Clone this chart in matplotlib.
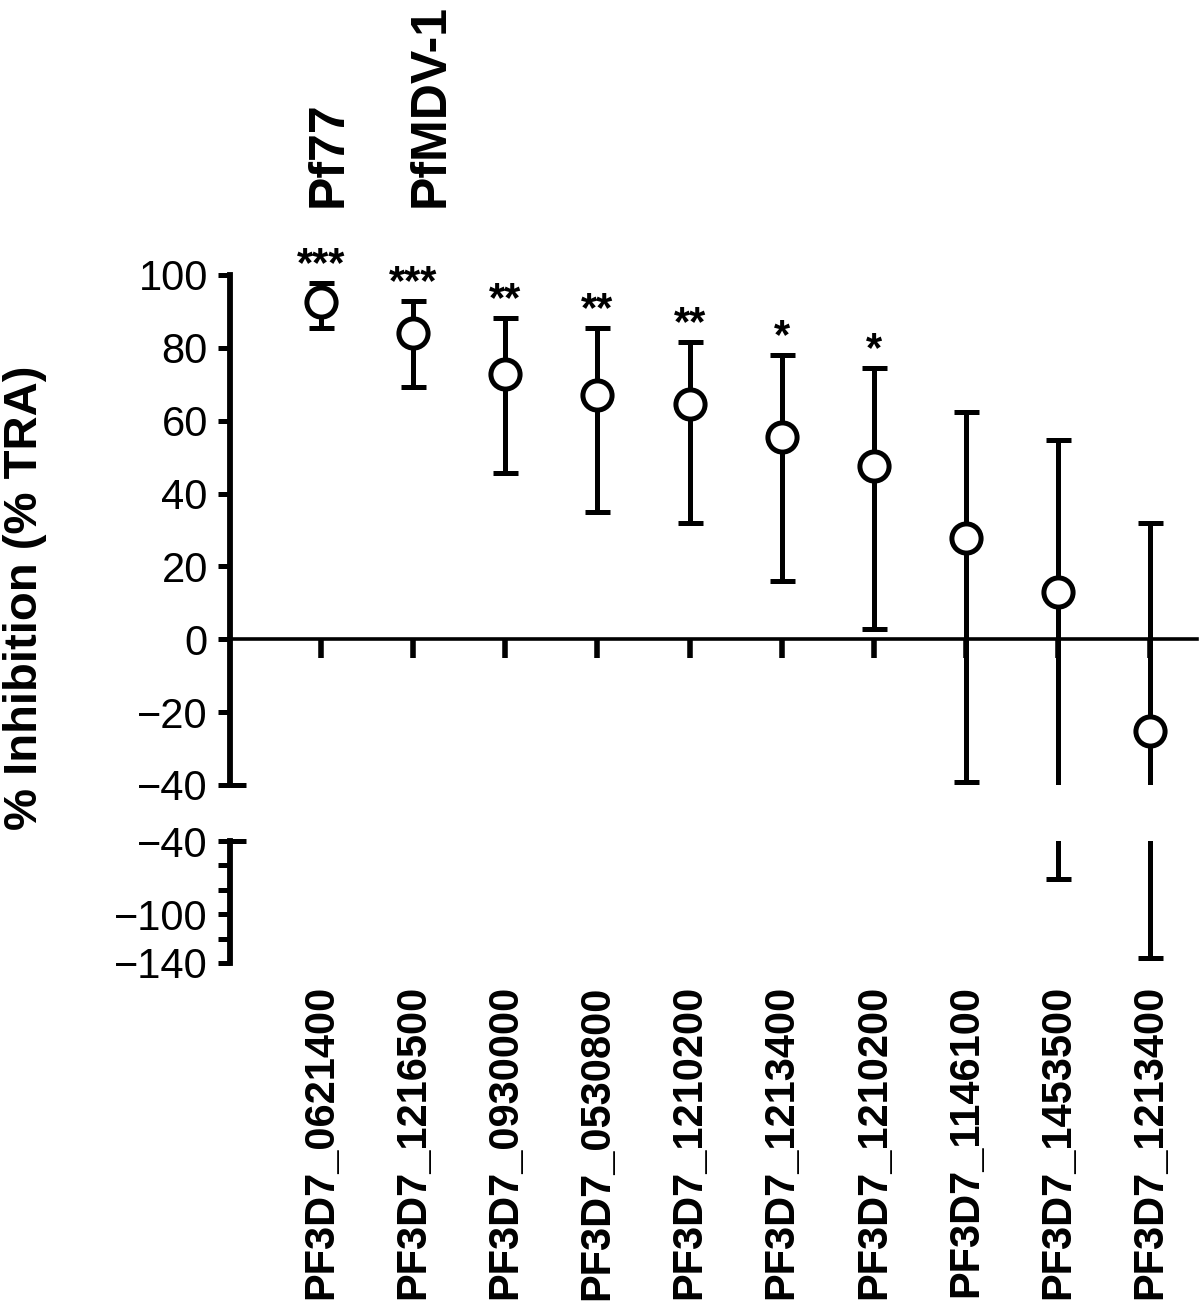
import matplotlib.pyplot as plt
import numpy as np

plt.rcParams['font.family'] = ['Liberation Sans', 'DejaVu Sans']

genes = ["PF3D7_0621400", "PF3D7_1216500", "PF3D7_0930000", "PF3D7_0530800",
         "PF3D7_1210200", "PF3D7_1213400", "PF3D7_1210200", "PF3D7_1146100",
         "PF3D7_1453500", "PF3D7_1213400"]
mean_inh = [92.6, 84.0, 72.8, 67.0, 64.6, 55.5, 47.5, 27.7, 12.9, -25.3]
upper = [97.8, 92.9, 88.2, 85.4, 81.6, 78.0, 74.5, 62.4, 54.7, 31.9]
lower = [85.4, 69.2, 45.6, 34.9, 31.9, 15.9, 2.7, -39.3, -71.0, -136.0]
stars = ["***", "***", "**", "**", "**", "*", "*", "", "", ""]

x = np.arange(len(genes))
mean_inh = np.array(mean_inh)
upper = np.array(upper)
lower = np.array(lower)
yerr = [mean_inh - lower, upper - mean_inh]

fig = plt.figure(figsize=(12, 13.08), dpi=100)
ax_top = fig.add_axes([0.1917, 0.3999, 0.8058, 0.3899])
ax_bot = fig.add_axes([0.1917, 0.2638, 0.8058, 0.0932])

err_style = dict(fmt='o', mfc='white', mec='black', mew=3.6, ms=21,
                 ecolor='black', elinewidth=3.6, capsize=9, capthick=3.8)

ax_top.errorbar(x, mean_inh, yerr=yerr, **err_style)

# only the bars that reach below -40 continue in the lower panel
deep = lower < -40
ax_bot.errorbar(x[deep], mean_inh[deep],
                yerr=[mean_inh[deep] - lower[deep], upper[deep] - mean_inh[deep]],
                **err_style)

for ax in (ax_top, ax_bot):
    ax.set_xlim(-0.99, 9.51)
    ax.spines['top'].set_visible(False)
    ax.spines['right'].set_visible(False)
    ax.spines['left'].set_linewidth(4.2)
    ax.tick_params(axis='y', direction='out', length=9, width=3.6,
                   labelsize=30, pad=7)

# upper panel
ax_top.set_ylim(-40, 100)
ax_top.set_yticks(np.arange(-40, 101, 20))
ax_top.spines['bottom'].set_position(('data', 0))
ax_top.spines['bottom'].set_linewidth(2.6)
ax_top.set_xticks(x)
ax_top.set_xticklabels([])
ax_top.tick_params(axis='x', direction='out', length=14, width=4)

# lower panel
ax_bot.set_ylim(-140, -40)
ax_bot.set_yticks([-40, -60, -80, -100, -120, -140])
ax_bot.set_yticklabels(['\u221240', '', '', '\u2212100', '', '\u2212140'])
ax_bot.spines['bottom'].set_visible(False)
ax_bot.set_xticks(x)
ax_bot.set_xticklabels(genes, rotation=90, fontsize=30, fontweight='bold')
ax_bot.tick_params(axis='x', length=0, pad=16)

# small stubs at the axis break
for ax in (ax_top, ax_bot):
    ax.plot([0, 0.016], [-40, -40], transform=ax.get_yaxis_transform(),
            color='black', lw=3.6, clip_on=False, solid_capstyle='butt')

for xi, up, s in zip(x, upper, stars):
    if s:
        ax_top.text(xi, up + 5, s, ha='center', va='center', fontsize=30,
                    fontweight='bold')

ax_top.text(0.08, 118.7, 'Pf77', rotation=90, ha='center', va='bottom',
            fontsize=36, fontweight='bold')
ax_top.text(1.19, 118.7, 'PfMDV-1', rotation=90, ha='center', va='bottom',
            fontsize=36, fontweight='bold')

fig.text(0.021, 0.543, '% Inhibition (% TRA)', rotation=90, ha='center',
         va='center', fontsize=34, fontweight='bold')

fig.savefig('out.png', dpi=100)
